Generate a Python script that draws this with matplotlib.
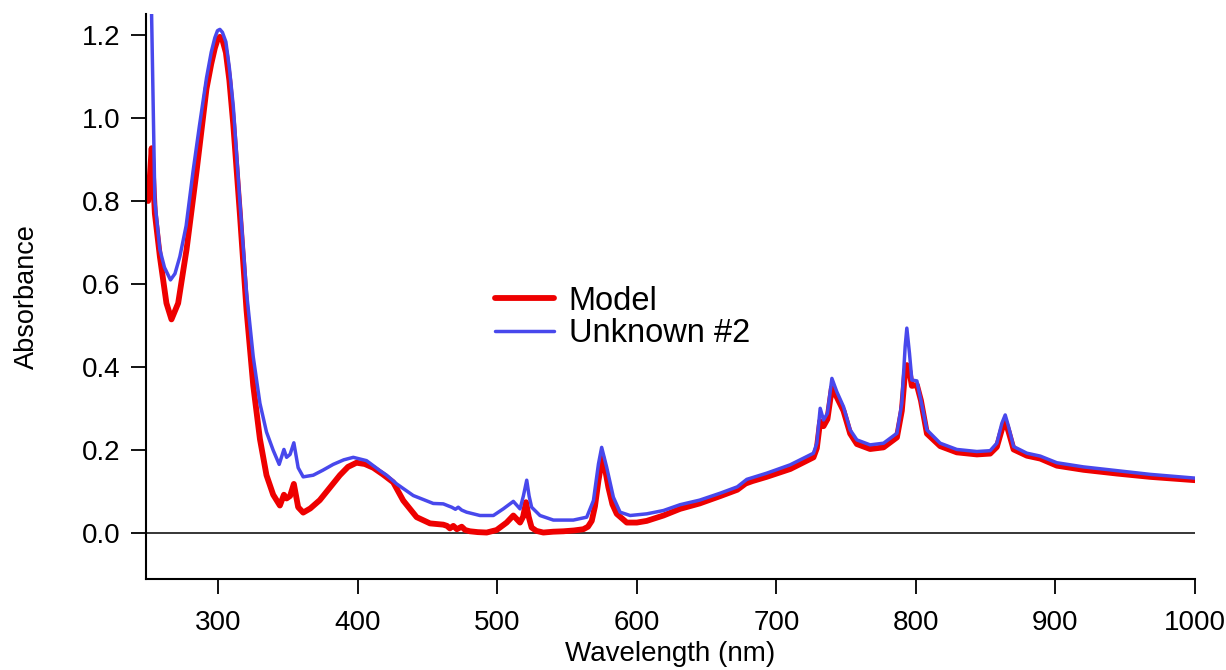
import numpy as np
import matplotlib
matplotlib.use("Agg")
import matplotlib.pyplot as plt

plt.rcParams['font.family'] = ['Liberation Sans', 'DejaVu Sans']

# --- data ---
model_nm = [249.8, 250.5, 252.3, 254.6, 258.2, 262.9, 266.5, 271.3, 277.3, 284.5,
            291.6, 295.0, 297.6, 299.5, 301.2, 303.0, 305.5, 308.0, 310.8, 315.5,
            320.3, 325.1, 329.9, 334.6, 339.4, 344.2, 347.1, 349.0, 351.5, 354.2,
            357.3, 360.9, 366.0, 372.8, 380.0, 387.2, 393.0, 399.1, 405.0, 411.1,
            418.0, 425.4, 432.6, 442.2, 451.8, 461.3, 464.0, 466.0, 468.5, 471.0,
            474.5, 477.0, 480.4, 486.0, 492.4, 499.5, 506.7, 511.5, 516.3, 518.5,
            520.6, 522.5, 524.6, 528.0, 533.0, 540.0, 547.4, 555.0, 561.7, 565.0,
            567.7, 570.0, 572.5, 575.3, 577.5, 579.6, 582.5, 585.6, 592.8, 600.0,
            607.1, 619.1, 631.0, 645.0, 660.0, 672.0, 678.0, 683.0, 693.0, 710.0,
            726.6, 729.0, 731.4, 733.8, 736.6, 739.8, 743.3, 748.1, 752.9, 757.7,
            767.2, 776.8, 786.4, 789.9, 792.3, 793.5, 795.4, 797.1, 800.7, 803.6,
            807.9, 817.4, 829.3, 843.7, 853.2, 858.0, 861.6, 864.0, 866.4, 870.0,
            879.5, 889.1, 901.0, 920.1, 944.0, 967.9, 1000.0]
model_abs = [0.800, 0.830, 0.927, 0.770, 0.666, 0.554, 0.515, 0.554, 0.683, 0.872,
             1.070, 1.130, 1.168, 1.188, 1.195, 1.188, 1.157, 1.090, 0.984, 0.770,
             0.537, 0.356, 0.227, 0.140, 0.093, 0.067, 0.093, 0.084, 0.090, 0.119,
             0.063, 0.050, 0.060, 0.080, 0.110, 0.140, 0.160, 0.170, 0.167, 0.158,
             0.142, 0.123, 0.079, 0.039, 0.024, 0.021, 0.018, 0.012, 0.018, 0.010,
             0.016, 0.008, 0.005, 0.003, 0.002, 0.008, 0.026, 0.043, 0.026, 0.040,
             0.075, 0.040, 0.014, 0.006, 0.002, 0.004, 0.005, 0.007, 0.010, 0.016,
             0.030, 0.065, 0.127, 0.183, 0.150, 0.111, 0.070, 0.047, 0.026, 0.026,
             0.030, 0.043, 0.059, 0.072, 0.090, 0.105, 0.120, 0.126, 0.136, 0.155,
             0.183, 0.205, 0.270, 0.258, 0.275, 0.350, 0.328, 0.295, 0.240, 0.215,
             0.203, 0.207, 0.231, 0.295, 0.390, 0.405, 0.390, 0.355, 0.357, 0.320,
             0.240, 0.210, 0.195, 0.190, 0.192, 0.208, 0.250, 0.270, 0.245, 0.202,
             0.187, 0.180, 0.163, 0.153, 0.144, 0.136, 0.128]

unknown_nm = [250.0, 252.2, 254.6, 258.2, 261.5, 265.8, 269.0, 272.5, 277.0, 282.0,
              286.5, 291.6, 295.0, 297.6, 299.5, 301.2, 303.0, 305.5, 308.0, 310.8,
              315.5, 320.3, 325.1, 329.9, 334.6, 339.4, 343.7, 347.1, 349.0, 351.5,
              354.2, 357.3, 360.9, 368.1, 375.0, 382.4, 390.0, 396.8, 406.3, 415.9,
              420.7, 427.9, 439.8, 454.1, 461.3, 465.0, 467.3, 470.0, 472.0, 474.5,
              478.0, 487.6, 497.2, 504.3, 511.5, 516.3, 518.7, 521.1, 522.8, 524.6,
              530.6, 540.2, 554.5, 564.1, 568.9, 572.5, 574.8, 578.4, 583.2, 588.0,
              595.2, 607.1, 619.1, 631.0, 645.0, 660.0, 672.0, 678.8, 693.2, 709.9,
              726.6, 729.0, 731.4, 733.8, 736.6, 739.8, 743.3, 748.1, 752.9, 757.7,
              767.2, 776.8, 786.4, 789.9, 792.3, 793.5, 795.4, 797.1, 800.7, 803.6,
              807.9, 817.4, 829.3, 843.7, 853.2, 858.0, 861.6, 864.0, 866.4, 870.0,
              879.5, 889.1, 901.0, 920.1, 944.0, 967.9, 1000.0]
unknown_abs = [1.450, 1.260, 0.800, 0.683, 0.640, 0.610, 0.625, 0.666, 0.740, 0.872,
               0.980, 1.096, 1.158, 1.193, 1.210, 1.213, 1.206, 1.183, 1.120, 1.028,
               0.800, 0.580, 0.425, 0.313, 0.244, 0.200, 0.166, 0.202, 0.183, 0.190,
               0.218, 0.158, 0.136, 0.140, 0.152, 0.166, 0.177, 0.183, 0.175, 0.151,
               0.140, 0.119, 0.091, 0.072, 0.071, 0.066, 0.063, 0.058, 0.063, 0.056,
               0.051, 0.043, 0.043, 0.059, 0.077, 0.059, 0.090, 0.128, 0.090, 0.063,
               0.043, 0.032, 0.032, 0.039, 0.079, 0.167, 0.207, 0.159, 0.087, 0.051,
               0.043, 0.047, 0.055, 0.069, 0.080, 0.097, 0.112, 0.130, 0.145, 0.165,
               0.193, 0.217, 0.301, 0.273, 0.289, 0.373, 0.341, 0.305, 0.249, 0.225,
               0.213, 0.217, 0.241, 0.313, 0.450, 0.494, 0.433, 0.369, 0.367, 0.320,
               0.249, 0.217, 0.202, 0.197, 0.199, 0.217, 0.265, 0.285, 0.257, 0.209,
               0.193, 0.186, 0.170, 0.160, 0.151, 0.142, 0.133]

x_ticks = [300, 400, 500, 600, 700, 800, 900, 1000]
y_ticks = [0.0, 0.2, 0.4, 0.6, 0.8, 1.0, 1.2]

fig = plt.figure(figsize=(12.26, 6.70), dpi=100)
ax = fig.add_axes([0.1188, 0.1354, 0.8559, 0.8437])

ax.axhline(0, color='black', lw=1.1, zorder=1)
ax.plot(model_nm, model_abs, color='#ee0000', lw=4.2, label='Model', zorder=2,
        solid_joinstyle='round', solid_capstyle='round')
ax.plot(unknown_nm, unknown_abs, color='#4848ec', lw=2.5, label='Unknown #2', zorder=3,
        solid_joinstyle='round', solid_capstyle='round')

ax.set_xlim(248, 1000)
ax.set_ylim(-0.1105, 1.25)
ax.set_xticks(x_ticks)
ax.set_yticks(y_ticks)
ax.set_yticklabels([f"{v:.1f}" for v in y_ticks])

for side in ['top', 'right']:
    ax.spines[side].set_visible(False)
for side in ['left', 'bottom']:
    ax.spines[side].set_linewidth(1.5)
ax.tick_params(direction='out', length=11, width=1.3, labelsize=20, pad=7)
ax.tick_params(axis='x', pad=11)

ax.set_xlabel('Wavelength (nm)', fontsize=20, labelpad=4)
ax.set_ylabel('Absorbance', fontsize=19.5, labelpad=30)

ax.legend(loc='center left', bbox_to_anchor=(0.333, 0.463), frameon=False,
          fontsize=23.5, handlelength=1.8, handletextpad=0.45, labelspacing=0.05,
          borderpad=0, borderaxespad=0)

fig.savefig('out.png', dpi=100)
